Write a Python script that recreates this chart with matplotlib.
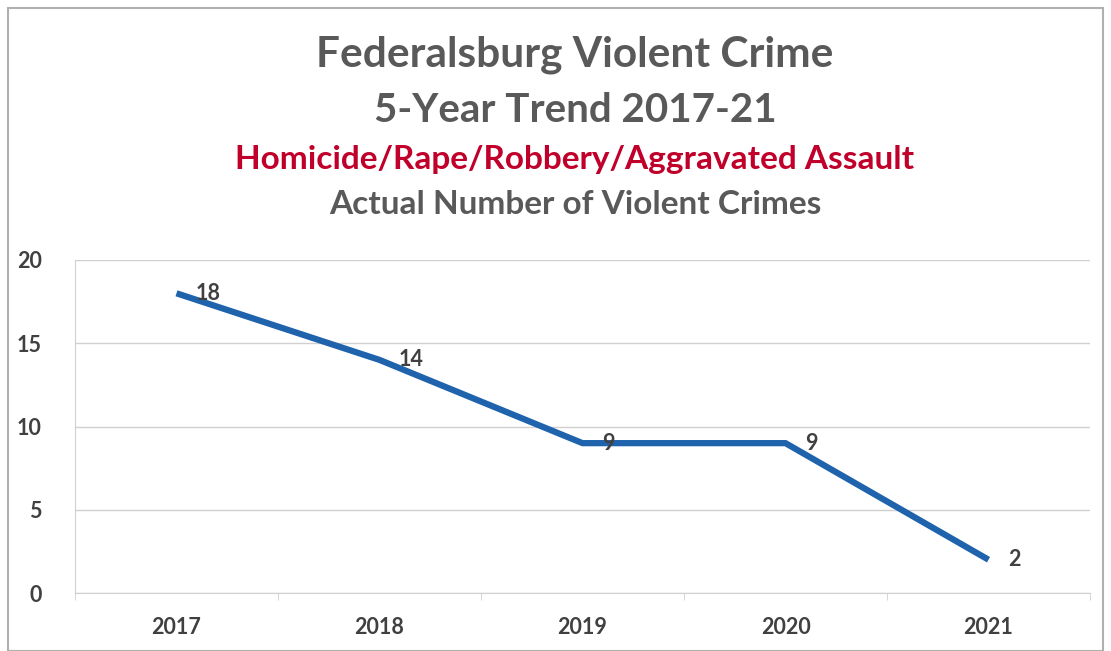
import matplotlib
matplotlib.use("Agg")
import matplotlib.pyplot as plt
from matplotlib.patches import Rectangle

years = ["2017", "2018", "2019", "2020", "2021"]
crimes = [18, 14, 9, 9, 2]
y_ticks = [0, 5, 10, 15, 20]

TITLE_GRAY = "#595959"
RED = "#c0002a"
BLUE = "#1f63ad"
GRID = "#d0d0d0"

plt.rcParams["font.family"] = ["Lato", "DejaVu Sans"]

fig = plt.figure(figsize=(11.11, 6.51), dpi=100)
ax = fig.add_axes([75 / 1111, 1 - 593 / 651, (1090 - 75) / 1111, (593 - 260) / 651])

x = list(range(len(years)))
ax.plot(x, crimes, color=BLUE, lw=4.5, solid_capstyle="butt", solid_joinstyle="miter", zorder=3)
for xi, v in zip(x, crimes):
    ax.annotate(str(v), (xi, v), xytext=(14, 0), textcoords="offset points",
                fontsize=15.5, fontweight="bold", color="#404040", va="center", ha="left", zorder=4)

ax.set_xlim(-0.5, len(years) - 0.5)
ax.set_ylim(0, 20)
ax.set_yticks(y_ticks)
ax.set_xticks(x)
ax.set_xticklabels(years)
ax.set_xticks([i + 0.5 for i in range(-1, len(years))], minor=True)
ax.tick_params(axis="x", which="major", length=0, pad=17, labelsize=15.5, labelcolor="#404040")
ax.tick_params(axis="x", which="minor", length=5, color=GRID, direction="out")
ax.tick_params(axis="y", length=0, pad=24, labelsize=15.5, labelcolor="#404040")
for lab in ax.get_xticklabels() + ax.get_yticklabels():
    lab.set_fontweight("bold")
ax.grid(axis="y", color=GRID, lw=1)
for s in ["top", "right"]:
    ax.spines[s].set_visible(False)
ax.spines["left"].set_color(GRID)
ax.spines["bottom"].set_color(GRID)
ax.set_axisbelow(True)

# chart frame
fig.patches.append(Rectangle((8 / 1111, 0), 1 - 16 / 1111, 1 - 8 / 651, transform=fig.transFigure,
                             fill=False, edgecolor="#b0b0b0", lw=1.5))

tx = 575 / 1111
fig.text(tx, 1 - 55 / 651, "Federalsburg Violent Crime", ha="center", va="center",
         fontsize=30.5, fontweight="bold", color=TITLE_GRAY)
fig.text(tx, 1 - 110 / 651, "5-Year Trend 2017-21", ha="center", va="center",
         fontsize=29, fontweight="bold", color=TITLE_GRAY)
fig.text(tx, 1 - 160 / 651, "Homicide/Rape/Robbery/Aggravated Assault", ha="center", va="center",
         fontsize=24, fontweight="bold", color=RED)
fig.text(tx, 1 - 205 / 651, "Actual Number of Violent Crimes", ha="center", va="center",
         fontsize=24, fontweight="bold", color=TITLE_GRAY)

fig.savefig("out.png", dpi=100)
